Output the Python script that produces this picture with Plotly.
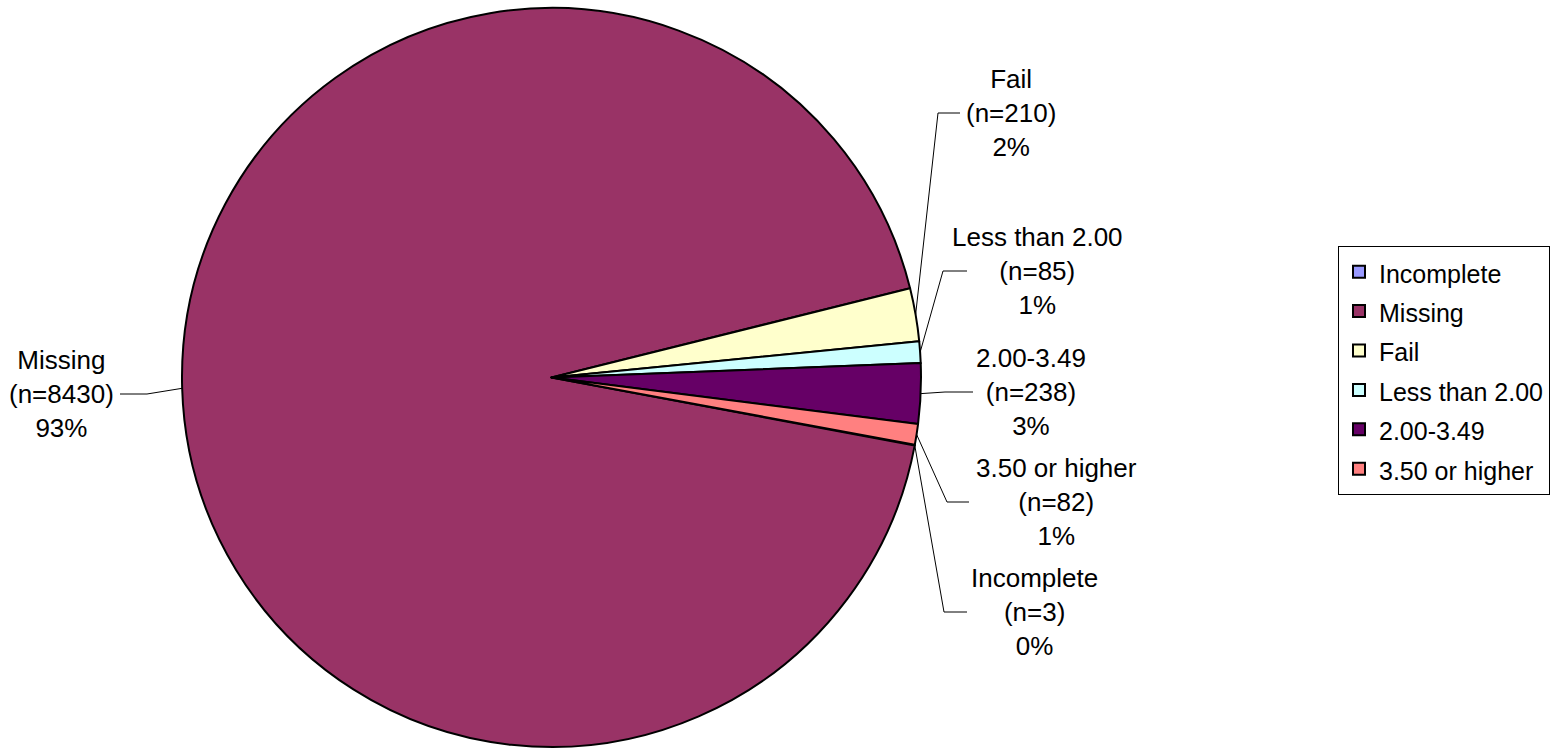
import math
import plotly.graph_objects as go

# ---- data ----
categories = ["Incomplete", "Missing", "Fail", "Less than 2.00", "2.00-3.49", "3.50 or higher"]
counts = [3, 8430, 210, 85, 238, 82]
colors = ["#9999FF", "#993366", "#FFFFCC", "#CCFFFF", "#660066", "#FF8080"]

# ---- layout constants (pixels) ----
W, H = 1562, 749
CX, CY, R = 551.5, 377.5, 369.5
ROTATION = 100.5
FONT = "Liberation Sans, Arial, sans-serif"

# label placement: (text centre x, middle-line y)
label_pos = {
    "Incomplete": (1034, 612),
    "Missing": (62, 394),
    "Fail": (1011, 113),
    "Less than 2.00": (1037, 271),
    "2.00-3.49": (1031, 392),
    "3.50 or higher": (1056, 502),
}
# leader-line horizontal segment: (x at text, x at elbow)
leader_h = {
    "Incomplete": (967, 944),
    "Missing": (120, 147),
    "Fail": (960, 938),
    "Less than 2.00": (967, 943),
    "2.00-3.49": (973, 945),
    "3.50 or higher": (969, 947),
}

def px_to_paper(x, y):
    return x / W, 1 - y / H

fig = go.Figure()
fig.add_trace(go.Pie(
    labels=[f"<span style='font-size:25px'>{c}</span>" for c in categories],
    values=counts,
    sort=False,
    direction="clockwise",
    rotation=ROTATION,
    marker=dict(colors=colors, line=dict(color="#000000", width=2)),
    textinfo="none",
    hoverinfo="label+value+percent",
    domain=dict(x=[(CX - R) / W, (CX + R) / W], y=[1 - (CY + R) / H, 1 - (CY - R) / H]),
    showlegend=True,
))

total = sum(counts)
cum = 0
annotations = []
shapes = []
for cat, v in zip(categories, counts):
    mid = ROTATION + 360.0 * (cum + v / 2) / total
    cum += v
    a = math.radians(mid)
    ex = CX + R * math.sin(a)
    ey = CY - R * math.cos(a)
    tx, ty = label_pos[cat]
    pct = round(100.0 * v / total)
    annotations.append(dict(
        x=tx / W, y=1 - ty / H, xref="paper", yref="paper",
        text=f"{cat}<br>(n={v})<br>{pct}%",
        showarrow=False, xanchor="center", yanchor="middle", align="center",
        font=dict(family=FONT, size=26, color="#000000"),
    ))
    hx0, hx1 = leader_h[cat]
    p0 = px_to_paper(hx0, ty)
    p1 = px_to_paper(hx1, ty)
    p2 = px_to_paper(ex, ey)
    shapes.append(dict(
        type="path", xref="paper", yref="paper",
        path=f"M {p0[0]} {p0[1]} L {p1[0]} {p1[1]} L {p2[0]} {p2[1]}",
        line=dict(color="#000000", width=1),
    ))

fig.update_layout(
    width=W, height=H,
    margin=dict(l=0, r=0, t=0, b=0),
    paper_bgcolor="#FFFFFF",
    plot_bgcolor="#FFFFFF",
    font=dict(family=FONT, color="#000000"),
    annotations=annotations,
    shapes=shapes,
    legend=dict(
        x=1338 / W, y=1 - 246 / H, xanchor="left", yanchor="top",
        font=dict(family=FONT, size=28, color="#000000"),
        bordercolor="#000000", borderwidth=1, bgcolor="#FFFFFF",
        itemclick=False, itemdoubleclick=False,
    ),
)

fig.write_html(
    "out.html",
    config={"displayModeBar": False},
    post_script="document.body.style.margin='0';document.body.style.padding='0';",
)
